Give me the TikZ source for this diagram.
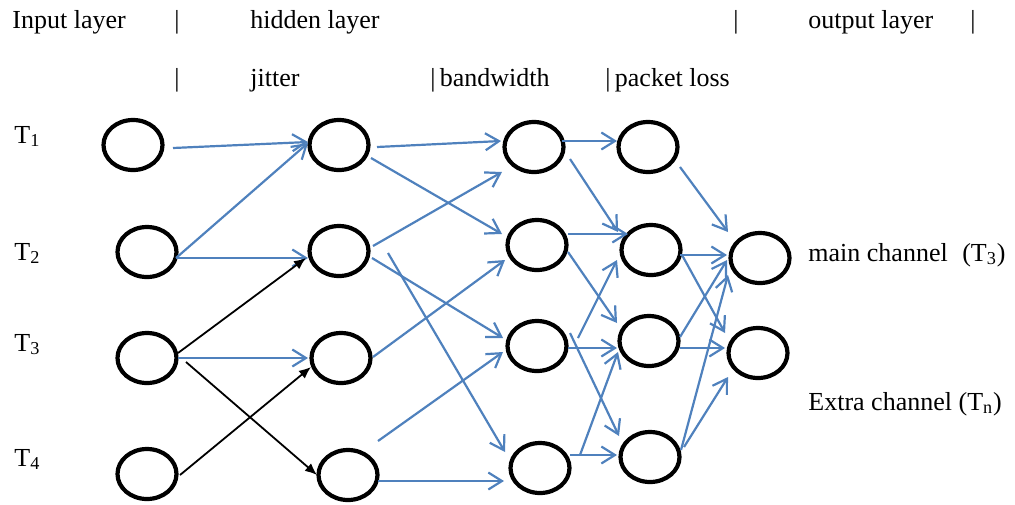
\documentclass[tikz,border=0pt]{standalone}
\usepackage{fontspec}
\setmainfont{Liberation Serif}
\usetikzlibrary{shapes.geometric,arrows.meta,calc}
\definecolor{netblue}{HTML}{4F81BD}
\begin{document}
\begin{tikzpicture}[x=0.5pt,y=-0.5pt,
  neuron/.style={draw,ellipse,line width=2.1pt,minimum width=29.5pt,minimum height=25pt,inner sep=0pt},
  blu/.style={draw=netblue,line width=1.1pt,-{Straight Barb[length=6.8pt,width=8.5pt]}},
  blk/.style={draw=black,line width=0.9pt,-{Latex[length=6pt,width=5pt]}},
  lbl/.style={anchor=base west,inner sep=0pt,font=\fontsize{13pt}{15pt}\selectfont}]
\useasboundingbox (0,0) rectangle (1015,504);
% header texts
\node[lbl] (tIn) at (12,28) {Input layer};
\node[lbl] (tBarA) at (174,28) {|};
\node[lbl] (tHid) at (250,28) {hidden layer};
\node[lbl] (tBarB) at (733,28) {|};
\node[lbl] (tOut) at (808,28) {output layer};
\node[lbl] (tBarC) at (970,28) {|};
\node[lbl] (tBarD) at (174,86) {|};
\node[lbl] (tJit) at (250,86) {jitter};
\node[lbl] (tBw) at (430,86) {|\,bandwidth};
\node[lbl] (tPl) at (605,86) {|\,packet loss};
% row labels
\node[lbl] (lT1) at (14,143) {T\textsubscript{1}};
\node[lbl] (lT2) at (14,260) {T\textsubscript{2}};
\node[lbl] (lT3) at (14,351) {T\textsubscript{3}};
\node[lbl] (lT4) at (14,466) {T\textsubscript{4}};
\node[lbl] (lMain) at (808,261) {main channel\hspace{4pt} (T\textsubscript{3})};
\node[lbl] (lExtra) at (808,410) {Extra channel (T\textsubscript{n})};
% neurons
\node[neuron] (I1) at (133,145) {};
\node[neuron] (I2) at (147,252) {};
\node[neuron] (I3) at (147,358) {};
\node[neuron] (I4) at (147,474) {};
\node[neuron] (H1) at (339,145) {};
\node[neuron] (H2) at (339,251) {};
\node[neuron] (H3) at (341,358) {};
\node[neuron] (H4) at (348,475) {};
\node[neuron] (B1) at (534,147) {};
\node[neuron] (B2) at (537,245) {};
\node[neuron] (B3) at (537,346) {};
\node[neuron] (B4) at (540,468) {};
\node[neuron] (P1) at (648,147) {};
\node[neuron] (P2) at (651,250) {};
\node[neuron] (P3) at (649,341) {};
\node[neuron] (P4) at (650,457) {};
\node[neuron] (O1) at (760,258) {};
\node[neuron] (O2) at (758,353) {};
% input -> hidden
\draw[blu] ($(I1)+(40,3)$) -- ($(H1)+(-31,-3)$);
\draw[blu] ($(I2)+(29,6)$) -- ($(H1)+(-31,-2)$);
\draw[blu] ($(I2)+(29,6)$) -- ($(H2)+(-31,7)$);
\draw[blk] ($(I3)+(31,-5)$) -- ($(H2)+(-33,7)$);
\draw[blu] ($(I3)+(31,0)$) -- ($(H3)+(-33,0)$);
\draw[blk] ($(I3)+(39,4)$) -- ($(H4)+(-31,0)$);
\draw[blk] ($(I4)+(33,1)$) -- ($(H3)+(-30,9)$);
% hidden -> bandwidth
\draw[blu] ($(H1)+(38,2)$) -- ($(B1)+(-33,-6)$);
\draw[blu] ($(H1)+(32,13)$) -- ($(B2)+(-35,-11)$);
\draw[blu] ($(H2)+(34,-5)$) -- ($(B1)+(-32,25)$);
\draw[blu] ($(H2)+(33,7)$) -- ($(B3)+(-34,-8)$);
\draw[blu] ($(H2)+(49,2)$) -- ($(B4)+(-35,-16)$);
\draw[blu] ($(H3)+(32,-1)$) -- ($(B2)+(-32,15)$);
\draw[blu] ($(H4)+(30,-34)$) -- ($(B3)+(-34,6)$);
\draw[blu] ($(H4)+(30,6)$) -- ($(B4)+(-36,13)$);
% bandwidth -> packet loss
\draw[blu] ($(B1)+(28,-6)$) -- ($(P1)+(-31,-6)$);
\draw[blu] ($(B1)+(36,12)$) -- ($(P2)+(-33,-18)$);
\draw[blu] ($(B2)+(31,-11)$) -- ($(P2)+(-23,-16)$);
\draw[blu] ($(B2)+(31,7)$) -- ($(P3)+(-32,-18)$);
\draw[blu] ($(B3)+(41,-8)$) -- ($(P2)+(-34,10)$);
\draw[blu] ($(B3)+(31,2)$) -- ($(P3)+(-32,7)$);
\draw[blu] ($(B3)+(33,-13)$) -- ($(P4)+(-31,-21)$);
\draw[blu] ($(B4)+(40,-13)$) -- ($(P3)+(-31,11)$);
\draw[blu] ($(B4)+(30,-13)$) -- ($(P4)+(-33,-2)$);
% packet loss -> output
\draw[blu] ($(P1)+(32,20)$) -- ($(O1)+(-32,-26)$);
\draw[blu] ($(P2)+(29,5)$) -- ($(O1)+(-33,-3)$);
\draw[blu] ($(P2)+(31,5)$) -- ($(O2)+(-33,-20)$);
\draw[blu] ($(P3)+(31,-4)$) -- ($(O1)+(-33,2)$);
\draw[blu] ($(P3)+(31,7)$) -- ($(O2)+(-33,-5)$);
\draw[blu] ($(P4)+(31,-7)$) -- ($(O1)+(-32,17)$);
\draw[blu] ($(P4)+(34,-10)$) -- ($(O2)+(-30,24)$);
\end{tikzpicture}
\end{document}
